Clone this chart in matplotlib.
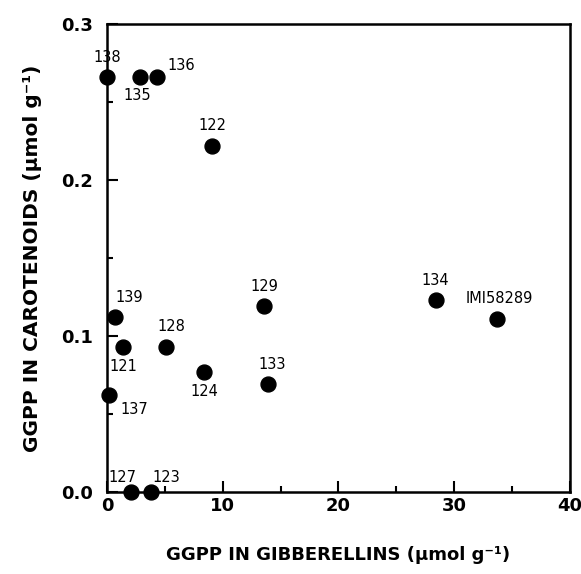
import numpy as np
import matplotlib
matplotlib.use("Agg")
import matplotlib.pyplot as plt
from matplotlib.ticker import MultipleLocator

# Strain data
strains = ['138', '135', '136', '122', '139', '121', '128', '124',
           '129', '133', '137', '127', '123', '134', 'IMI58289']
gibberellins = [0.0, 2.9, 4.35, 9.1, 0.7, 1.4, 5.1, 8.4,
                13.6, 13.9, 0.2, 2.1, 3.8, 28.4, 33.7]
carotenoids = [0.266, 0.266, 0.266, 0.222, 0.112, 0.093, 0.093, 0.077,
               0.119, 0.069, 0.062, 0.0, 0.0, 0.123, 0.111]

# label offsets in points (dx, dy) and alignment
label_pos = {
    '138': (0, 9, 'center', 'bottom'),
    '135': (-2, -8, 'center', 'top'),
    '136': (7, 3, 'left', 'bottom'),
    '122': (0, 9, 'center', 'bottom'),
    '139': (0, 9, 'left', 'bottom'),
    '121': (0, -9, 'center', 'top'),
    '128': (4, 9, 'center', 'bottom'),
    '124': (0, -9, 'center', 'top'),
    '129': (0, 9, 'center', 'bottom'),
    '133': (3, 9, 'center', 'bottom'),
    '137': (8, -5, 'left', 'top'),
    '127': (-6, 5, 'center', 'bottom'),
    '123': (11, 5, 'center', 'bottom'),
    '134': (0, 9, 'center', 'bottom'),
    'IMI58289': (2, 9, 'center', 'bottom'),
}

fig = plt.figure(figsize=(5.81, 5.74), dpi=100)
ax = fig.add_axes([0.184, 0.143, 0.797, 0.815])

ax.scatter(gibberellins, carotenoids, s=115, color='black', zorder=3, clip_on=False)

for name, x, y in zip(strains, gibberellins, carotenoids):
    dx, dy, ha, va = label_pos[name]
    ax.annotate(name, (x, y), xytext=(dx, dy), textcoords='offset points',
                ha=ha, va=va, fontsize=10.5, family=['Liberation Sans Narrow', 'DejaVu Sans'])

ax.set_xlim(0, 40)
ax.set_ylim(0, 0.3)
ax.xaxis.set_minor_locator(MultipleLocator(5))
ax.yaxis.set_minor_locator(MultipleLocator(0.05))
ax.set_xticks([0, 10, 20, 30, 40])
ax.set_xticklabels(['0', '10', '20', '30', '40'], fontweight='bold', fontsize=13)
ax.set_yticks([0, 0.1, 0.2, 0.3])
ax.set_yticklabels(['0.0', '0.1', '0.2', '0.3'], fontweight='bold', fontsize=13)

ax.tick_params(axis='y', which='major', direction='in', length=8, width=1.5, pad=10)
ax.tick_params(axis='x', which='major', direction='in', length=8, width=1.5, pad=4)
ax.tick_params(which='minor', direction='in', length=4, width=1.5)
for sp in ax.spines.values():
    sp.set_linewidth(1.8)

ax.set_xlabel('GGPP IN GIBBERELLINS (µmol g⁻¹)', fontsize=13, fontweight='bold', labelpad=22)
ax.set_ylabel('GGPP IN CAROTENOIDS (µmol g⁻¹)', fontsize=14.5, fontweight='bold', labelpad=14)

fig.savefig('out.png', dpi=100)
